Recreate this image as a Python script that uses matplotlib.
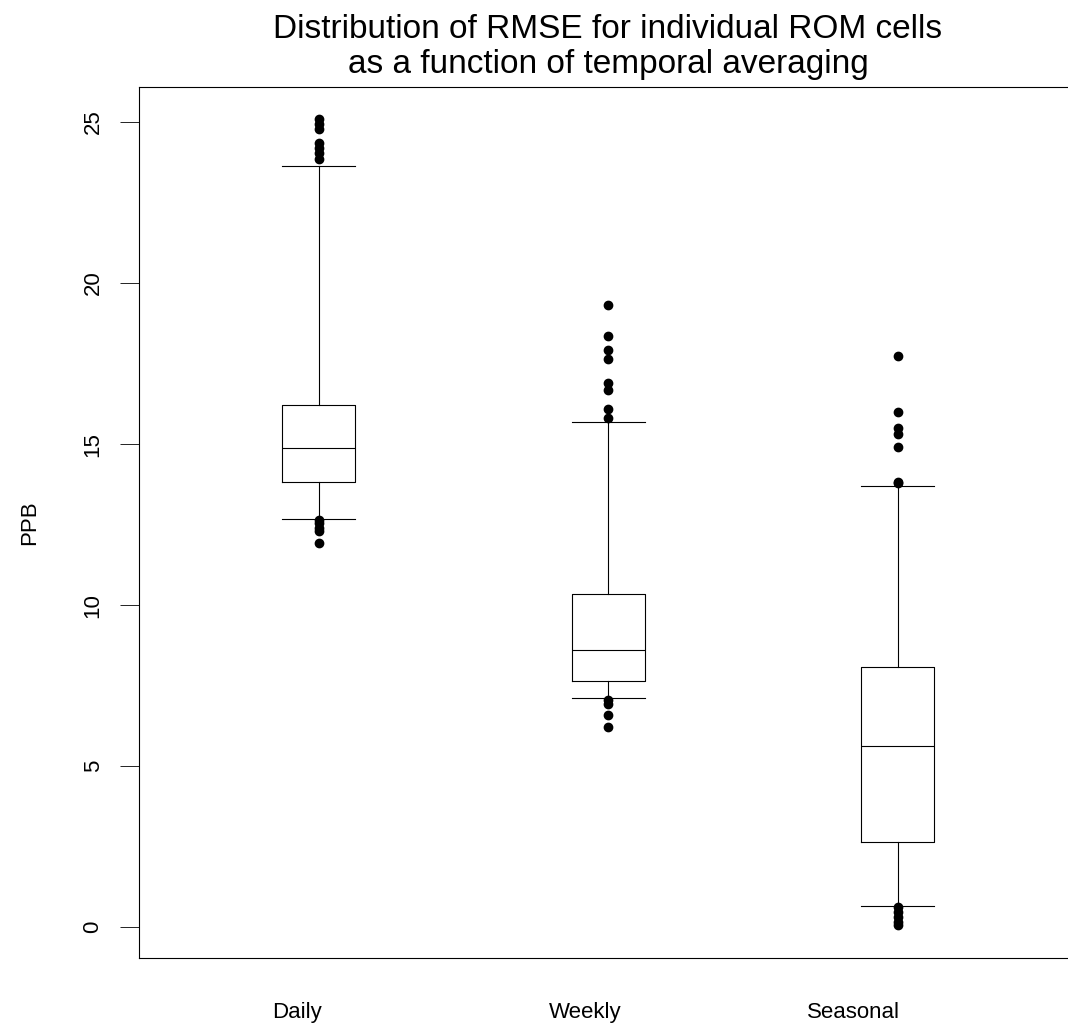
import matplotlib
matplotlib.use("Agg")
import matplotlib.pyplot as plt
import matplotlib.transforms as mtransforms

plt.rcParams["font.family"] = ["Liberation Sans", "DejaVu Sans"]

# box statistics (PPB)
CATEGORIES = ["Daily", "Weekly", "Seasonal"]
Q1 = [13.81, 7.65, 2.64]
MEDIAN = [14.88, 8.60, 5.62]
Q3 = [16.21, 10.36, 8.08]
WHISKER_LO = [12.66, 7.11, 0.67]
WHISKER_HI = [23.64, 15.68, 13.70]
FLIERS_DAILY = [25.10, 24.95, 24.80, 24.35, 24.20, 24.05, 23.85,
                12.65, 12.55, 12.40, 12.30, 11.93]
FLIERS_WEEKLY = [19.31, 18.37, 17.91, 17.63, 16.91, 16.67, 16.09, 15.81,
                 7.05, 6.93, 6.58, 6.21]
FLIERS_SEASONAL = [17.75, 16.01, 15.49, 15.30, 14.92, 13.83, 13.78,
                   0.63, 0.48, 0.30, 0.15, 0.05]
Y_TICKS = [0, 5, 10, 15, 20, 25]

# category labels sit a little left of the boxes in the original
LABEL_X = [0.924, 1.922, 2.845]

fliers = [FLIERS_DAILY, FLIERS_WEEKLY, FLIERS_SEASONAL]
stats = []
for i, name in enumerate(CATEGORIES):
    stats.append({
        "label": name,
        "q1": Q1[i], "med": MEDIAN[i], "q3": Q3[i],
        "whislo": WHISKER_LO[i], "whishi": WHISKER_HI[i],
        "fliers": fliers[i],
    })

fig = plt.figure(figsize=(10.68, 10.25), dpi=100)
# R-style plot region; the right edge of the frame falls just outside the image
ax = fig.add_axes([139 / 1068, 1 - 958 / 1025, 938.5 / 1068, 871 / 1025])

line = dict(color="black", linewidth=0.8)
ax.bxp(
    stats,
    positions=[1, 2, 3],
    widths=0.252,
    capwidths=0.252,
    boxprops=line,
    whiskerprops=line,
    capprops=line,
    medianprops=line,
    flierprops=dict(marker="o", markerfacecolor="black", markeredgecolor="black",
                    markersize=6.0, linestyle="none"),
)

ax.set_xlim(0.38, 3.62)
ax.set_ylim(-0.96, 26.09)

ax.set_yticks(Y_TICKS)
ax.set_yticklabels([str(t) for t in Y_TICKS], rotation=90, va="center", fontsize=16)
ax.tick_params(axis="y", length=13.5, width=0.6, pad=12)
ax.set_xticks([])

# group labels: x in data units, baseline a fixed distance under the frame
trans = mtransforms.blended_transform_factory(ax.transData, ax.transAxes)
offset = mtransforms.ScaledTranslation(0, -60 / 100, fig.dpi_scale_trans)
for x, name in zip(LABEL_X, CATEGORIES):
    ax.text(x, 0, name, transform=trans + offset,
            ha="center", va="baseline", fontsize=16, clip_on=False)

for sp in ax.spines.values():
    sp.set_linewidth(0.8)
ax.spines["right"].set_visible(False)

ax.set_ylabel("PPB", fontsize=16)
ax.yaxis.set_label_coords(-(139 - 40) / 938.5, 0.5)

fig.text(608 / 1068, 1 - 30 / 1025, "Distribution of RMSE for individual ROM cells",
         ha="center", va="center", fontsize=24)
fig.text(608 / 1068, 1 - 64 / 1025, "as a function of temporal averaging",
         ha="center", va="center", fontsize=24)

fig.savefig("out.png", dpi=100)
